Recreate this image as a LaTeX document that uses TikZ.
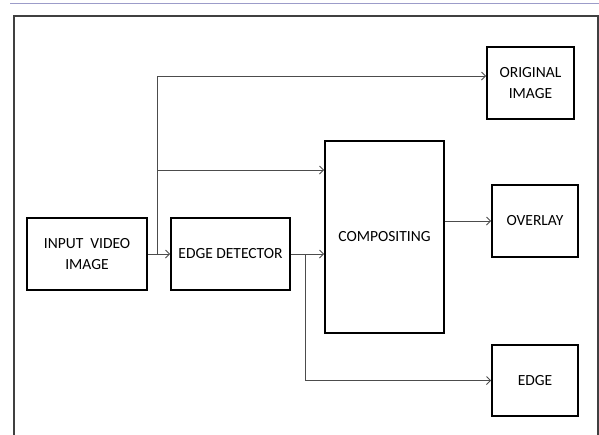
\documentclass[tikz,border=0pt]{standalone}
\usepackage{fontspec}
\setmainfont{Carlito}
\usetikzlibrary{calc,arrows.meta}
\tikzstyle{block}=[
	draw=black,
	shape=rectangle,
	line width=1.6pt,
	align=center,
	font=\fontsize{15.5}{21}\selectfont,
	inner sep=0pt
]
\tikzstyle{link} = [draw,line width=1pt,black!70,-{Straight Barb[length=4pt,width=8pt]}]
\tikzstyle{frame} = [draw,line width=1.1pt,black!75]

\begin{document}
\begin{tikzpicture}[x=1pt,y=-1pt]
			\useasboundingbox (0,0) rectangle (599,434);
			\draw[line width=1pt,blue!30!gray!60] (10,3) -- (599,3);
			\draw[frame] (14,440) -- (14,16) -- (598,16) -- (598,440);
			
			\node[block,minimum width=120pt,minimum height=72pt] (input) at (87,254) {INPUT\ \ VIDEO\\IMAGE};
			\node[block,minimum width=119pt,minimum height=72pt] (edge) at (230.5,254) {EDGE DETECTOR};
			\node[block,minimum width=119pt,minimum height=192pt] (comp) at (384.5,237) {COMPOSITING};
			\node[block,minimum width=87pt,minimum height=72pt] (orig) at (530.5,83) {ORIGINAL\\IMAGE};
			\node[block,minimum width=86pt,minimum height=72pt] (overlay) at (535,221) {OVERLAY};
			\node[block,minimum width=86pt,minimum height=71pt] (edgeout) at (535,380.5) {EDGE};
			
			\coordinate (split1) at (157,254);
			\coordinate (top) at (157,76);
			\coordinate (mid) at (157,170);
			\coordinate (split2) at (305,254);
			
			\path[link] (input.east) -- (edge.west);
			\draw[line width=1pt,black!70] (split1) -- (top);
			\path[link] (top) -- (top -| orig.west);
			\path[link] (mid) -- (mid -| comp.west);
			\path[link] (edge.east) -- (edge.east -| comp.west);
			\path[link] (split2) |- (edgeout.west);
			\path[link] (overlay.west -| comp.east) -- (overlay.west);
			
			\end{tikzpicture}
\end{document}
